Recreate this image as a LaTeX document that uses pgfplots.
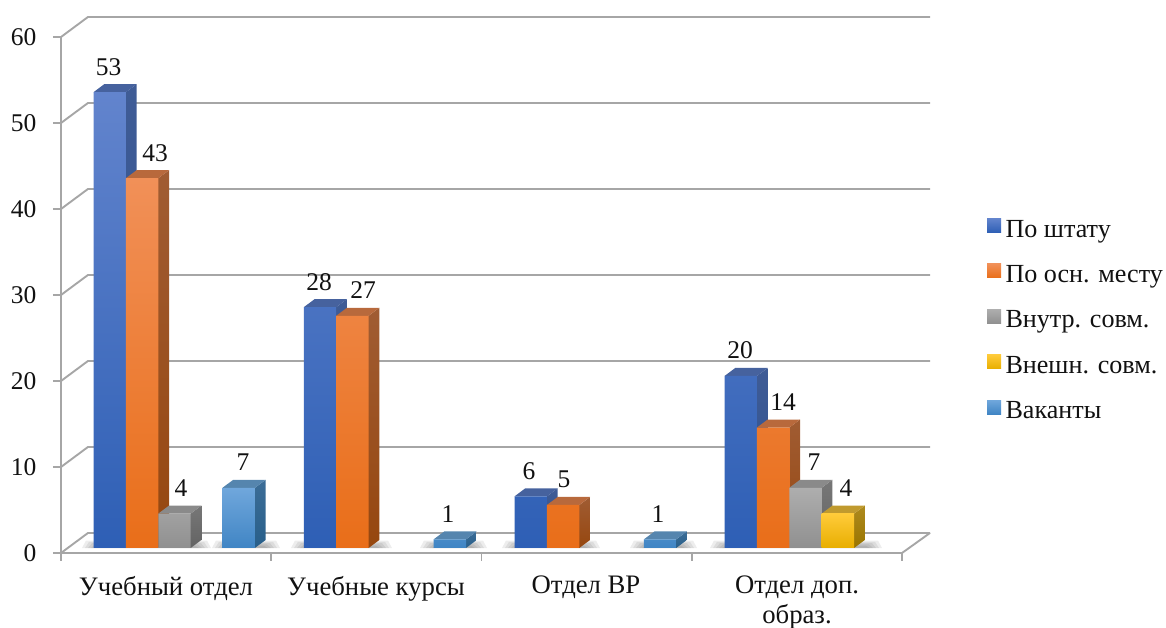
\documentclass[border=0pt]{standalone}
\usepackage{pgfplots}
\pgfplotsset{compat=1.18}
\usepackage{fontspec}
\setmainfont{Liberation Serif}
\definecolor{gridc}{HTML}{A6A6A6}
\definecolor{txt}{HTML}{111111}
\definecolor{hb1}{HTML}{6284CD}\definecolor{hb2}{HTML}{4273CB}\definecolor{hb3}{HTML}{2E5FB5}
\definecolor{ho1}{HTML}{F19058}\definecolor{ho2}{HTML}{F87E2A}\definecolor{ho3}{HTML}{E96E19}
\definecolor{hg1}{HTML}{AEAEAE}\definecolor{hg2}{HTML}{A5A5A5}\definecolor{hg3}{HTML}{909090}
\definecolor{hy1}{HTML}{FFCB3A}\definecolor{hy2}{HTML}{FFC000}\definecolor{hy3}{HTML}{E8AE00}
\definecolor{hl1}{HTML}{70A7DC}\definecolor{hl2}{HTML}{5A9BD5}\definecolor{hl3}{HTML}{4085C4}
\definecolor{bs}{HTML}{3F5C96}\definecolor{bb}{HTML}{2C4F8E}\definecolor{bst}{HTML}{46629E}
\definecolor{os}{HTML}{A05C33}\definecolor{ob}{HTML}{96470F}\definecolor{ost}{HTML}{B8693C}
\definecolor{gs}{HTML}{777777}\definecolor{gb}{HTML}{636363}\definecolor{gst}{HTML}{8A8A8A}
\definecolor{ys}{HTML}{AD8A1E}\definecolor{yb}{HTML}{9A7500}\definecolor{yst}{HTML}{C09A2E}
\definecolor{ls}{HTML}{3C6D97}\definecolor{lb}{HTML}{285F8A}\definecolor{lst}{HTML}{5585AE}
\newcommand\wall[1]{%
  \pgfmathsetmacro\wb{#1+2.33}%
  \edef\tmp{\noexpand\addplot[forget plot,draw=gridc,line width=1.9pt,line join=round] coordinates {(61,#1) (88,\wb) (930,\wb)};}\tmp}
\newcommand\sides[4]{% left edge, value, side colour, bottom colour
  \pgfmathsetmacro\xl{#1}\pgfmathsetmacro\xa{#1+32.4}\pgfmathsetmacro\xb{#1+43.1}\pgfmathsetmacro\xc{#1+10.7}%
  \pgfmathsetmacro\vb{#2+0.93}%
  \edef\tmp{\noexpand\addplot[forget plot,yshift=5pt,draw=none,top color=#3,bottom color=#4] coordinates {(\xa,0) (\xa,#2) (\xb,\vb) (\xb,0.93)} --cycle;}\tmp
  \edef\tmp{\noexpand\addplot[forget plot,yshift=5pt,draw=none,fill=#3t] coordinates {(\xl,#2) (\xa,#2) (\xb,\vb) (\xc,\vb)} --cycle;}\tmp}
\newcommand\shadow[2]{%
  \pgfplotsforeachungrouped \k in {0,3,6,9,12}{%
    \pgfmathsetmacro\ka{#1+\k}\pgfmathsetmacro\kb{#2-\k}\pgfmathsetmacro\kc{#1+\k+4}\pgfmathsetmacro\kd{#2-\k-4}%
    \pgfmathsetmacro\ve{1.45-\k*0.05}%
    \edef\tmp{\noexpand\addplot[forget plot,draw=none,fill=black,fill opacity=0.07] coordinates {(\ka,0.58) (\kc,\ve) (\kd,\ve) (\kb,0.58)} --cycle;}\tmp}}
\pgfplotsset{
  swatch/.style={legend image code/.code={\path[##1,draw=none] (0pt,-7pt) rectangle (14pt,7pt);}},
  barstyle/.style={ybar,bar shift=0pt,bar width=32.4pt,yshift=5pt,draw=none,swatch},
}
\begin{document}
\fontsize{25.5}{30}\selectfont
\begin{tikzpicture}[x=1pt,y=1pt]
\path[use as bounding box] (0,0) rectangle (1166,628);
\begin{axis}[
  at={(61pt,75pt)},anchor=south west,
  scale only axis,width=841pt,height=516pt,
  xmin=61,xmax=902,ymin=0,ymax=60,enlargelimits=false,clip=false,
  axis x line*=bottom,axis y line*=left,
  axis line style={draw=gridc,line width=1.9pt,-},
  /pgf/number format/assume math mode=true,
  ytick={0,10,...,60},
  xtick={166,376,586,797},
  xticklabels={Учебный отдел,Учебные курсы,Отдел ВР,{Отдел доп.\\образ.}},
  minor xtick={61,271,481.5,692,902},
  tick align=outside,
  major tick length=8pt,minor tick length=8pt,
  x tick style={draw=none},
  y tick style={draw=gridc,line width=1.4pt},
  minor x tick style={draw=gridc,line width=1.4pt},
  xticklabel style={align=center,text=txt,font=\fontsize{26.7}{29.5}\selectfont,yshift=-6.5pt},
  yticklabel style={text=txt,font=\fontsize{25.5}{30}\selectfont,xshift=-8pt,yshift=-0.5pt},
  legend style={at={(rel axis cs:0,0)},anchor=north west,xshift=926pt,yshift=335pt,
    draw=none,fill=none,inner sep=0pt,outer sep=0pt,row sep=20.5pt,
    font=\fontsize{26.1}{30}\selectfont,text=txt,
    nodes={inner xsep=4.5pt}},
  legend cell align=left,
]
\wall{10}\wall{20}\wall{30}\wall{40}\wall{50}\wall{60}\wall{0}
\addplot[forget plot,draw=gridc,line width=1.9pt] coordinates {(902,0) (930,2.33)};
\shadow{82}{211}\shadow{212}{280}\shadow{291}{392}\shadow{420}{487}\shadow{502}{600}\shadow{630}{697}\shadow{710}{882}

% По штату
\sides{93.5}{53}{bs}{bb}
\sides{303.8}{28}{bs}{bb}
\sides{514.5}{6}{bs}{bb}
\sides{724.5}{20}{bs}{bb}
\addplot[barstyle,top color=hb1,middle color=hb2,bottom color=hb3] coordinates {(109.7,53) (320,28) (530.7,6) (740.7,20)};
\addlegendentry{По штату}
% По осн. месту
\sides{125.9}{43}{os}{ob}
\sides{336.2}{27}{os}{ob}
\sides{546.9}{5}{os}{ob}
\sides{756.9}{14}{os}{ob}
\addplot[barstyle,top color=ho1,middle color=ho2,bottom color=ho3] coordinates {(142.1,43) (352.4,27) (563.1,5) (773.1,14)};
\addlegendentry{По осн. месту}
% Внутр. совм.
\sides{158.3}{4}{gs}{gb}
\sides{789.3}{7}{gs}{gb}
\addplot[barstyle,top color=hg1,middle color=hg2,bottom color=hg3] coordinates {(174.5,4) (805.5,7)};
\addlegendentry{Внутр. совм.}
% Внешн. совм.
\sides{821.7}{4}{ys}{yb}
\addplot[barstyle,top color=hy1,middle color=hy2,bottom color=hy3] coordinates {(837.9,4)};
\addlegendentry{Внешн. совм.}
% Ваканты
\sides{222.5}{7}{ls}{lb}
\sides{433.6}{1}{ls}{lb}
\sides{643.8}{1}{ls}{lb}
\addplot[barstyle,top color=hl1,middle color=hl2,bottom color=hl3] coordinates {(238.7,7) (449.8,1) (660,1)};
\addlegendentry{Ваканты}
% подписи
\addplot[forget plot,only marks,mark=none,yshift=5pt,point meta=y,
  nodes near coords,
  nodes near coords style={anchor=center,yshift=25.5pt,text=txt,inner sep=0pt,font=\fontsize{25.5}{30}\selectfont,
    /pgf/number format/assume math mode=true}]
 coordinates {(108.5,53) (155,43) (181,4) (243,7) (319,28) (363,27) (448,1) (529,6) (564,5) (658,1) (740,20) (783,14) (814,7) (846,4)};
\end{axis}
\end{tikzpicture}
\end{document}
